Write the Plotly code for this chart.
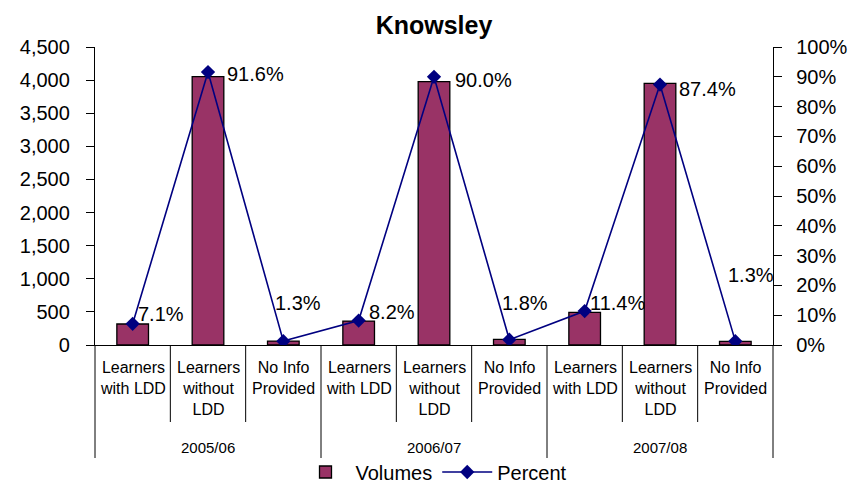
import plotly.graph_objects as go

# ---- data ----
years = ["2005/06", "2006/07", "2007/08"]
categories = ["Learners<br>with LDD", "Learners<br>without<br>LDD", "No Info<br>Provided"]
volumes = [317, 4052, 60, 362, 3976, 86, 494, 3952, 56]
percent = [7.1, 91.6, 1.3, 8.2, 90.0, 1.8, 11.4, 87.4, 1.3]
pct_labels = ["7.1%", "91.6%", "1.3%", "8.2%", "90.0%", "1.8%", "11.4%", "87.4%", "1.3%"]
left_ticks = [0, 500, 1000, 1500, 2000, 2500, 3000, 3500, 4000, 4500]
right_ticks = [0, 10, 20, 30, 40, 50, 60, 70, 80, 90, 100]

# label offsets (pixels) as in the original chart
label_dx = [3, 17, -10, 8, 19, -9, 3, 17, -9]
label_dy = [10, -2, 38, 9, -3, 37, 8, -4, 66]

FONT = "Liberation Sans, Arial, sans-serif"
n = len(volumes)
xs = list(range(n))
ncat = len(categories)

# page body has an 8px margin: size figure so it fills the window
W, H = 849, 478
L, R, T, B = 87, 84, 39, 141
ph = H - T - B

fig = go.Figure()
fig.add_trace(go.Bar(
    x=xs, y=volumes, name="Volumes", width=0.42,
    marker=dict(color="#993366", line=dict(color="black", width=1.3)),
))
fig.add_trace(go.Scatter(
    x=xs, y=[p / 100 for p in percent], name="Percent", yaxis="y2",
    mode="lines+markers",
    line=dict(color="#000080", width=1.6),
    marker=dict(symbol="diamond", size=11, color="#000080"),
))

# data labels
for i in range(n):
    fig.add_annotation(
        x=xs[i], y=percent[i] / 100, xref="x", yref="y2", text=pct_labels[i],
        showarrow=False, xanchor="left", yanchor="middle",
        xshift=label_dx[i], yshift=label_dy[i],
        font=dict(family=FONT, size=20, color="black"),
    )

# category & year labels
for g, yr in enumerate(years):
    for c, cat in enumerate(categories):
        i = g * ncat + c
        fig.add_annotation(
            x=(i + 0.5) / n, y=0, xref="paper", yref="paper", text=cat,
            showarrow=False, xanchor="center", yanchor="top", yshift=-12,
            font=dict(family=FONT, size=16, color="black"),
        )
    fig.add_annotation(
        x=(g * ncat + ncat / 2) / n, y=0, xref="paper", yref="paper", text=yr,
        showarrow=False, xanchor="center", yanchor="middle", yshift=-102,
        font=dict(family=FONT, size=15, color="black"),
    )

# separators
for k in range(n + 1):
    is_group = (k % ncat == 0)
    depth = 113 if is_group else 77
    fig.add_shape(type="line", xref="paper", yref="paper",
                  x0=k / n, x1=k / n, y0=0, y1=-depth / ph,
                  line=dict(color="black", width=1))

fig.update_layout(
    width=W, height=H,
    margin=dict(l=L, r=R, t=T, b=B, autoexpand=False),
    paper_bgcolor="white", plot_bgcolor="white",
    title=dict(text="<b>Knowsley</b>", x=(L + 339) / W, xanchor="center",
               y=1 - 17 / H, yanchor="middle",
               font=dict(family=FONT, size=25, color="black")),
    font=dict(family=FONT, size=20, color="black"),
    showlegend=True,
    legend=dict(orientation="h", x=0.5, xanchor="center", y=-127 / ph, yanchor="middle",
                font=dict(family=FONT, size=20), itemwidth=50,
                bgcolor="rgba(0,0,0,0)", tracegroupgap=0),
    bargap=0.5,
    xaxis=dict(range=[-0.5, n - 0.5], showticklabels=False, showgrid=False,
               showline=True, linecolor="black", linewidth=1.3, ticks="",
               zeroline=False, fixedrange=True, automargin=False),
    yaxis=dict(range=[0, 4500], tickvals=left_ticks,
               ticktext=[f"{v:,}" for v in left_ticks],
               showgrid=False, zeroline=False, showline=True, linecolor="black",
               linewidth=1.3, ticks="outside", ticklen=8, tickcolor="black",
               ticklabelstandoff=12, tickfont=dict(size=20), automargin=False),
    yaxis2=dict(range=[0, 1], overlaying="y", side="right",
                tickvals=[t / 100 for t in right_ticks],
                ticktext=[f"{t}%" for t in right_ticks],
                showgrid=False, zeroline=False, showline=True, linecolor="black",
                linewidth=1.3, ticks="outside", ticklen=8, tickcolor="black",
                ticklabelstandoff=10, tickfont=dict(size=20), automargin=False),
)

fig.write_html("out.html")
